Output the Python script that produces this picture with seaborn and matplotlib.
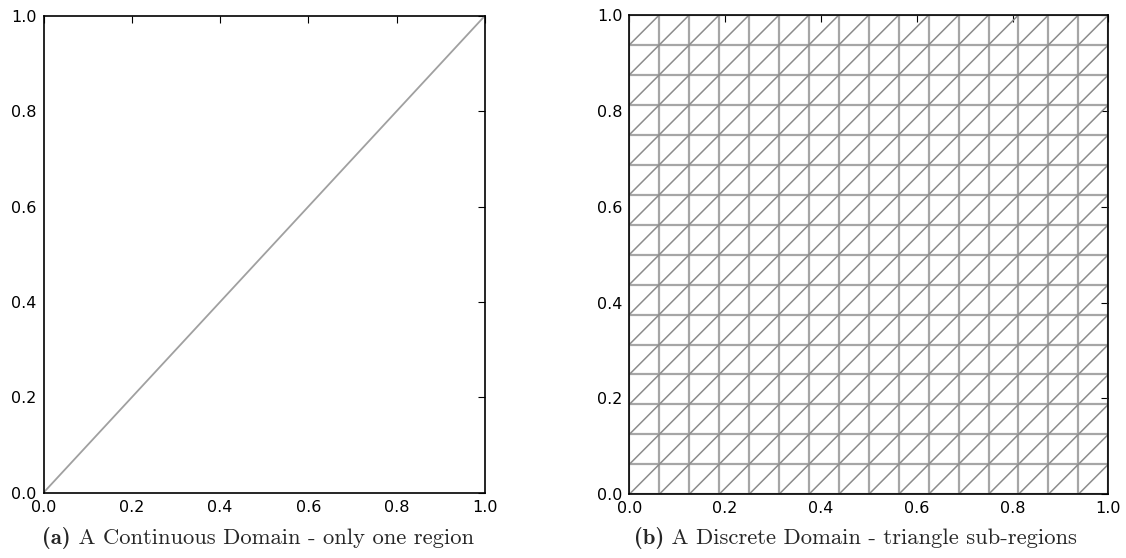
import numpy as np
import pandas as pd
import matplotlib
matplotlib.use("Agg")
import matplotlib.pyplot as plt
import seaborn as sns

# Continuous domain: a single diagonal split of the unit square
diag_x = [0.0, 1.0]
diag_y = [0.0, 1.0]

# Discrete domain: mesh node coordinates along each axis
mesh_nodes = [0.0, 0.0625, 0.125, 0.1875, 0.25, 0.3125, 0.375, 0.4375, 0.5,
              0.5625, 0.625, 0.6875, 0.75, 0.8125, 0.875, 0.9375, 1.0]

tick_vals = [0.0, 0.2, 0.4, 0.6, 0.8, 1.0]
tick_labels = ["0.0", "0.2", "0.4", "0.6", "0.8", "1.0"]

cap_a = ("(a)", "A Continuous Domain - only one region")
cap_b = ("(b)", "A Discrete Domain - triangle sub-regions")

sns.set_style("white")
plt.rcParams["font.family"] = ["DejaVu Sans"]

# Build the triangle mesh edges as line segments
rows = []
seg = 0
for v in mesh_nodes:
    rows += [(seg, 0.0, v, "grid"), (seg, 1.0, v, "grid")]
    seg += 1
    rows += [(seg, v, 0.0, "grid"), (seg, v, 1.0, "grid")]
    seg += 1
for i in range(len(mesh_nodes) - 1):
    for j in range(len(mesh_nodes) - 1):
        rows += [(seg, mesh_nodes[i], mesh_nodes[j], "diag"),
                 (seg, mesh_nodes[i + 1], mesh_nodes[j + 1], "diag")]
        seg += 1
mesh = pd.DataFrame(rows, columns=["seg", "x", "y", "kind"])

fig = plt.figure(figsize=(11.26, 5.58), dpi=100)
W, H = 1126, 558
ax1 = fig.add_axes([43.5 / W, (H - 492.7) / H, 441.5 / W, 477.0 / H])
ax2 = fig.add_axes([629.3 / W, (H - 494.3) / H, 479.0 / W, 479.3 / H])

sns.lineplot(x=diag_x, y=diag_y, ax=ax1, color="#a0a0a0", lw=1.3,
             estimator=None, sort=False)

sns.lineplot(data=mesh[mesh.kind == "grid"], x="x", y="y", units="seg",
             estimator=None, sort=False, ax=ax2, color="#a6a6a6", lw=1.6)
sns.lineplot(data=mesh[mesh.kind == "diag"], x="x", y="y", units="seg",
             estimator=None, sort=False, ax=ax2, color="#8c8c8c", lw=1.1)

for ax in (ax1, ax2):
    ax.set_xlim(0, 1)
    ax.set_ylim(0, 1)
    ax.set_xticks(tick_vals)
    ax.set_xticklabels(tick_labels)
    ax.set_yticks(tick_vals)
    ax.set_yticklabels(tick_labels)
    ax.set_xlabel("")
    ax.set_ylabel("")
    ax.tick_params(direction="in", length=5, width=0.8, color="black",
                   top=True, right=True, labelsize=11.5, pad=5,
                   labelcolor="black")
    for sp in ax.spines.values():
        sp.set_visible(True)
        sp.set_color("black")
        sp.set_linewidth(1.2)
        sp.set_zorder(3)

# Sub-figure captions: bold label followed by roman text
fig.canvas.draw()
renderer = fig.canvas.get_renderer()
for (lab, body), cx in ((cap_a, 258), (cap_b, 855)):
    t1 = fig.text(0, 0, lab, family="cmb10", fontsize=16.3)
    t2 = fig.text(0, 0, " " + body, family="cmr10", fontsize=16.3)
    w1 = t1.get_window_extent(renderer).width
    w2 = t2.get_window_extent(renderer).width
    x0 = cx - (w1 + w2) / 2
    y0 = (H - 544) / H
    t1.set_position((x0 / W, y0))
    t2.set_position(((x0 + w1) / W, y0))

fig.savefig("out.png", dpi=100)
